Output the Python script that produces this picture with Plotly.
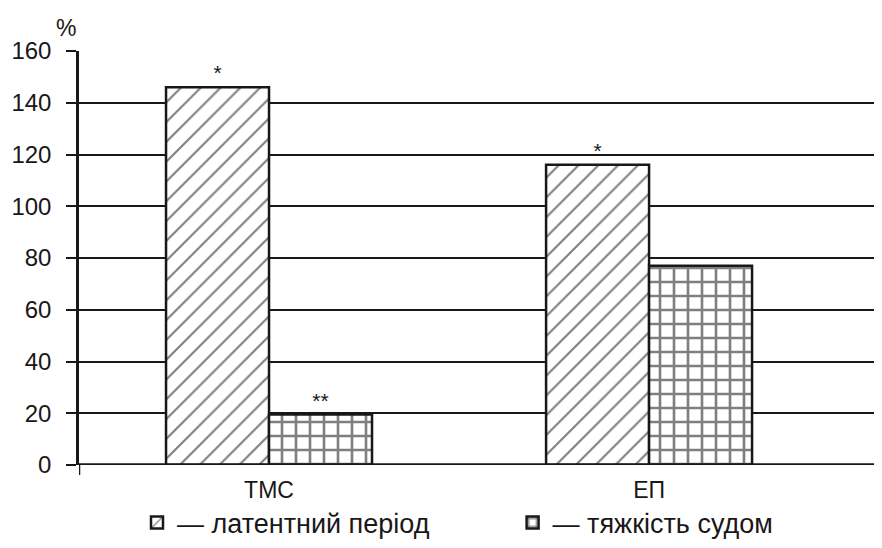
import plotly.graph_objects as go

categories = ["ТМС", "ЕП"]
latent = [146, 116]
severity = [19.5, 77]
latent_marks = ["*", "*"]
severity_marks = ["**", ""]
series_names = ["— латентний період", "— тяжкість судом"]
y_ticks = [0, 20, 40, 60, 80, 100, 120, 140, 160]

INK = "#1a1718"
FONT = "Liberation Sans, Arial, sans-serif"

x_pos = list(range(len(categories)))

fig = go.Figure()
fig.add_trace(go.Bar(
    x=x_pos, y=latent, name=series_names[0], legend="legend",
    text=latent_marks, textposition="outside", cliponaxis=False,
    textfont=dict(size=21, color=INK, family=FONT),
    marker=dict(color="white", line=dict(color=INK, width=2.5),
                pattern=dict(shape="/", fgcolor="#000000", bgcolor="white", size=14, solidity=0.15)),
))
fig.add_trace(go.Bar(
    x=x_pos, y=severity, name=series_names[1], legend="legend2",
    text=severity_marks, textposition="outside", cliponaxis=False,
    textfont=dict(size=21, color=INK, family=FONT),
    marker=dict(color="white", line=dict(color=INK, width=2.5),
                pattern=dict(shape="+", fgcolor="#000000", bgcolor="white", size=14, solidity=0.34)),
))

x_range = [-0.5, 1.605]
legend_font = dict(size=27, family=FONT, color=INK)

# page body has an 8px margin, so the figure is sized to fit the 882x548 window
fig.update_layout(
    width=874, height=540,
    margin=dict(l=71, r=3, t=43, b=83, autoexpand=False),
    paper_bgcolor="white", plot_bgcolor="white",
    barmode="group", bargap=0.458, bargroupgap=0,
    font=dict(family=FONT, size=24, color=INK),
    showlegend=True,
    legend=dict(orientation="h", x=0.0725, xanchor="left", y=-0.14, yanchor="middle",
                font=legend_font, bgcolor="rgba(0,0,0,0)"),
    legend2=dict(orientation="h", x=0.542, xanchor="left", y=-0.14, yanchor="middle",
                 font=legend_font, bgcolor="rgba(0,0,0,0)"),
    xaxis=dict(range=x_range, tickvals=x_pos, ticktext=categories, ticks="",
               showgrid=False, zeroline=False, showline=False, automargin=False,
               ticklabelstandoff=9, tickfont=dict(size=23)),
    yaxis=dict(range=[0, 160], tickvals=y_ticks, ticks="outside", ticklen=10,
               tickwidth=2, tickcolor=INK, showgrid=True, gridcolor=INK, gridwidth=2,
               zeroline=False, showline=True, linecolor=INK, linewidth=2.5,
               automargin=False, ticklabelstandoff=10, tickfont=dict(size=24)),
    annotations=[dict(text="%", xref="paper", yref="paper", x=-0.001, y=1.0,
                      xanchor="right", yanchor="bottom", yshift=8, showarrow=False,
                      font=dict(size=23, family=FONT, color=INK))],
    shapes=[
        dict(type="line", xref="x", yref="y", x0=x_range[0], x1=x_range[1], y0=0, y1=0,
             line=dict(color=INK, width=3.5)),
        dict(type="line", xref="x", yref="y", x0=x_range[1], x1=x_range[1], y0=0, y1=160,
             line=dict(color=INK, width=2.5)),
        dict(type="line", xref="x", yref="paper", x0=x_range[0], x1=x_range[0], y0=0, y1=-0.024,
             line=dict(color=INK, width=2.5)),
        dict(type="line", xref="x", yref="paper", x0=x_range[1], x1=x_range[1], y0=0, y1=-0.024,
             line=dict(color=INK, width=2.5)),
    ],
)

fig.write_html("out.html")
